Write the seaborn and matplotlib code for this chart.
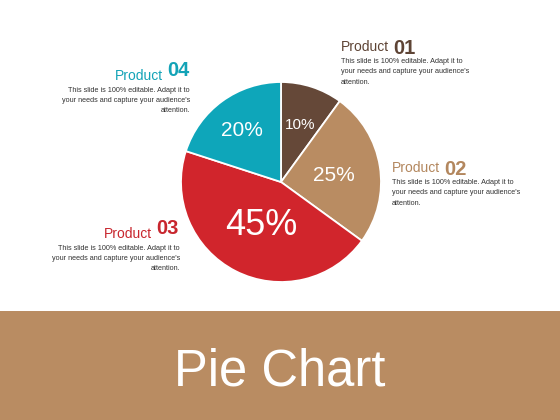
import numpy as np
import matplotlib
matplotlib.use("Agg")
import matplotlib.pyplot as plt
import seaborn as sns
from matplotlib.patches import Rectangle

# ---- data ----
products = ["01", "02", "03", "04"]
shares = [10, 25, 45, 20]
pct_labels = ["10%", "25%", "45%", "20%"]
body_text = "This slide is 100% editable. Adapt it to\nyour needs and capture your audience's\nattention."
title = "Pie Chart"

sns.set_theme(style="white")
plt.rcParams["font.family"] = ["Liberation Sans", "DejaVu Sans"]

colors = sns.color_palette(["#654838", "#B98C62", "#D1252C", "#0EA6BA"])
band_color = "#B98C62"
text_colors = ["#5E4435", "#B3875E", "#C8262E", "#13A3B7"]

W, H = 560, 420
fig = plt.figure(figsize=(W / 100, H / 100), dpi=100)
fig.patch.set_facecolor("white")

# bottom band
fig.patches.append(Rectangle((0, 0), 1, (H - 311) / H, transform=fig.transFigure,
                             facecolor=band_color, edgecolor="none", zorder=0))
fig.text(0.5, 1 - 385 / H, title, ha="center", va="baseline", color="white",
         fontsize=36.5)

# pie
cx, cy, r = 281, 182, 100
ax = fig.add_axes([(cx - r) / W, (H - cy - r) / H, 2 * r / W, 2 * r / H])
wedges, _ = ax.pie(shares, colors=colors, startangle=90, counterclock=False,
                   wedgeprops=dict(edgecolor="white", linewidth=1.3))
ax.set_xlim(-1, 1)
ax.set_ylim(-1, 1)
ax.set_aspect("auto")
ax.axis("off")

dists = [0.62, 0.54, 0.44, 0.66]
sizes = [11, 15, 26, 15]
for w, lab, d, s in zip(wedges, pct_labels, dists, sizes):
    ang = np.deg2rad((w.theta1 + w.theta2) / 2)
    ax.text(d * np.cos(ang), d * np.sin(ang), lab, ha="center", va="center_baseline",
            color="white", fontsize=s)

def left_label(i, x, y, col):
    t = fig.text(x / W, 1 - y / H, "Product", ha="left", va="baseline",
                 color=col, fontsize=10)
    fig.canvas.draw()
    ax.annotate(products[i], xy=(1, 0), xycoords=t, xytext=(3, 0),
                textcoords="offset points", ha="left", va="baseline",
                color=col, fontsize=14.5, fontweight="bold")
    fig.text(x / W, 1 - (y + 7) / H, body_text, ha="left", va="top",
             color="#333333", fontsize=5.2, linespacing=1.65)

def right_label(i, x, y, col):
    t = fig.text(x / W, 1 - y / H, products[i], ha="right", va="baseline",
                 color=col, fontsize=14.5, fontweight="bold")
    fig.canvas.draw()
    ax.annotate("Product", xy=(0, 0), xycoords=t, xytext=(-3, 0),
                textcoords="offset points", ha="right", va="baseline",
                color=col, fontsize=10)
    fig.text((x + 1) / W, 1 - (y + 11) / H, body_text, ha="right", va="top",
             color="#333333", fontsize=5.2, linespacing=1.65, multialignment="right")

left_label(0, 341, 51, text_colors[0])
left_label(1, 392, 172, text_colors[1])
right_label(2, 179, 234, text_colors[2])
right_label(3, 189, 76, text_colors[3])

fig.savefig("out.png", dpi=100, facecolor="white")
